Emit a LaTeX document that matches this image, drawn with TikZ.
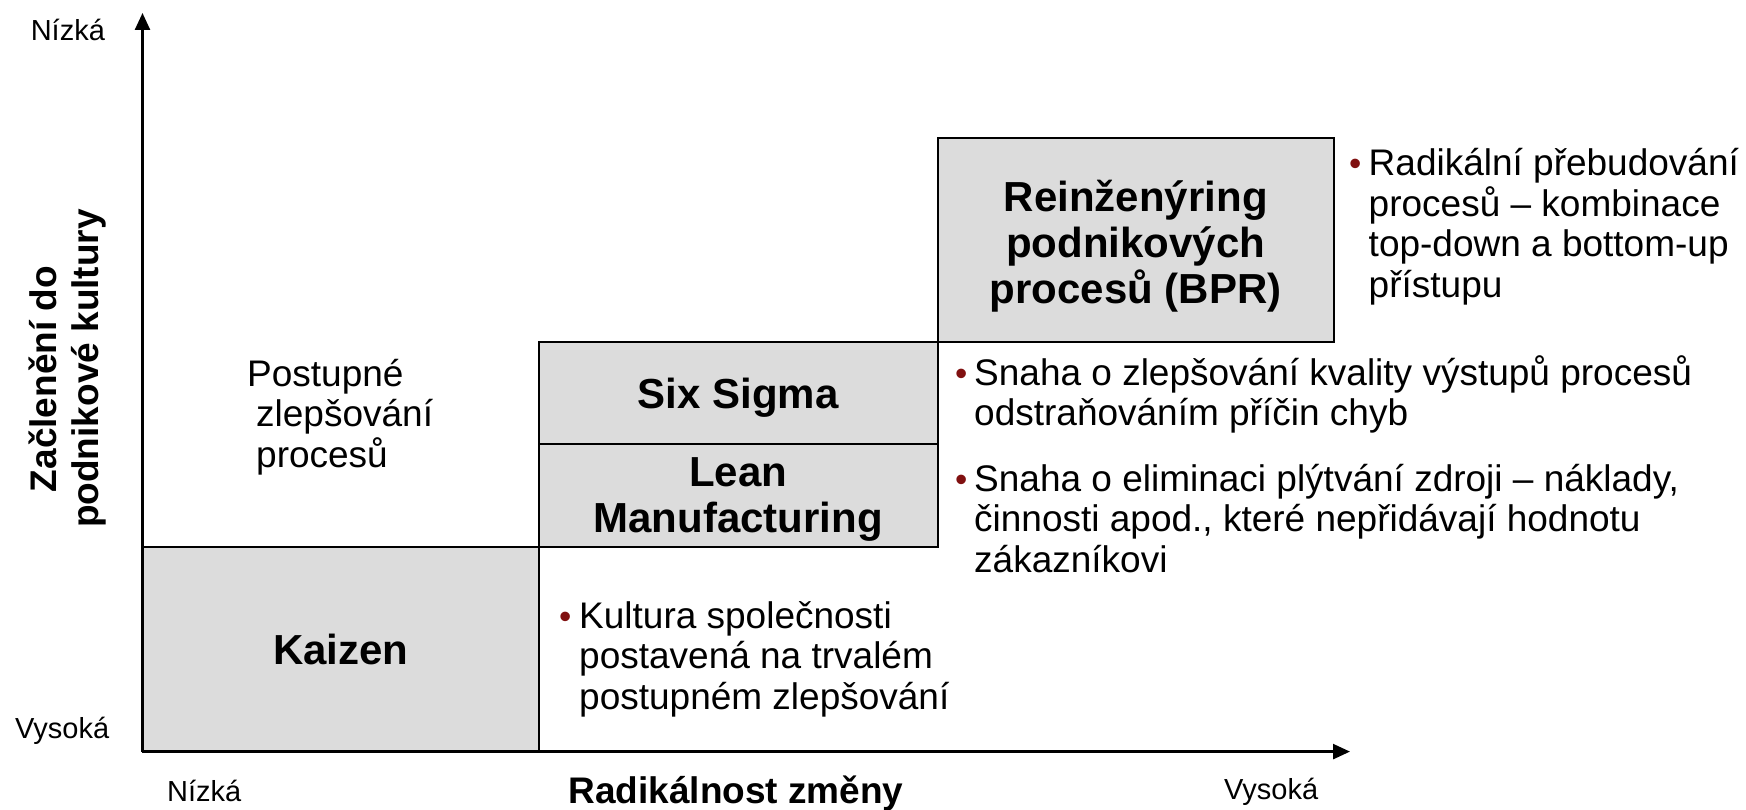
\documentclass[tikz,border=0pt]{standalone}
\usepackage{fontspec}
\setmainfont{Liberation Sans}
\usetikzlibrary{arrows.meta}
\definecolor{boxgray}{RGB}{220,220,220}
\definecolor{bulletred}{RGB}{128,16,16}
% box label, lowered by half of the extra space put above it
\newcommand{\stagetext}[2]{\parbox{380pt}{\vspace*{#1}\centering #2}}
\tikzset{
  stage/.style={draw=black, line width=2pt, fill=boxgray, inner sep=0,
    font=\fontsize{42}{46}\selectfont\bfseries, align=center},
  % multi-line text: the base anchor sits on the last line
  body/.style={font=\fontsize{37}{40.5}\selectfont, align=left, inner sep=0, anchor=base west},
  tick/.style={font=\fontsize{29}{32}\selectfont, inner sep=0, anchor=base west},
  bul/.style={text=bulletred, font=\fontsize{35}{40}\selectfont, inner sep=0, anchor=base west},
  axisline/.style={line width=2.5pt, -{Triangle[length=17pt,width=15pt]}},
  axistitle/.style={font=\fontsize{37}{42}\selectfont\bfseries, inner sep=0, align=center}
}
\begin{document}
\begin{tikzpicture}[x=1pt,y=-1pt]
  \useasboundingbox (0,0) rectangle (1746,810);

  % stages of change
  \node[stage, minimum width=396.5pt, minimum height=204.9pt] (kaizen) at (340.75,649.15) {Kaizen};
  \node[stage, minimum width=398.6pt, minimum height=102.5pt] (sixsigma) at (738.3,393) {\stagetext{9pt}{Six Sigma}};
  \node[stage, minimum width=398.6pt, minimum height=102.4pt] (lean) at (738.3,495.5) {\stagetext{9pt}{Lean\\Manufacturing}};
  \node[stage, minimum width=396.4pt, minimum height=203.8pt] (bpr) at (1135.8,239.9) {\stagetext{12pt}{Reinženýring\\podnikových\\procesů (BPR)}};

  % axes
  \coordinate (origin) at (142.5,751.6);
  \coordinate (ytip) at (142.5,13);
  \coordinate (xtip) at (1350,751.6);
  \draw[axisline] (origin) -- (ytip);
  \draw[axisline] (origin) -- (xtip);

  % axis titles and end labels
  \node[axistitle, rotate=90] (ytitle) at (68,368.5) {Začlenění do\hspace*{21pt}\\podnikové kultury};
  \node[axistitle, anchor=base] (xtitle) at (736,803) {Radikálnost změny};
  \node[tick] (ylow) at (30.6,41) {Nízká};
  \node[tick] (yhigh) at (15,738) {Vysoká};
  \node[tick] (xlow) at (167,801) {Nízká};
  \node[tick] (xhigh) at (1224,799) {Vysoká};

  % descriptions
  \node[body] (postupne) at (256,467) {\hspace*{-9pt}Postupné\\zlepšování\\procesů};

  \node[bul] (b1) at (559,628) {•};
  \node[body] (kultura) at (579,709) {Kultura společnosti\\postavená na trvalém\\postupném zlepšování};

  \node[bul] (b2) at (955,385) {•};
  \node[body] (sigmatext) at (974,425.5) {Snaha o zlepšování kvality výstupů procesů\\odstraňováním příčin chyb};

  \node[bul] (b3) at (955,491) {•};
  \node[body] (leantext) at (974,572) {Snaha o eliminaci plýtvání zdroji – náklady,\\činnosti apod., které nepřidávají hodnotu\\zákazníkovi};

  \node[bul] (b4) at (1349,176) {•};
  \node[body] (bprtext) at (1368.5,297.5) {Radikální přebudování\\procesů – kombinace\\top-down a bottom-up\\přístupu};
\end{tikzpicture}
\end{document}
